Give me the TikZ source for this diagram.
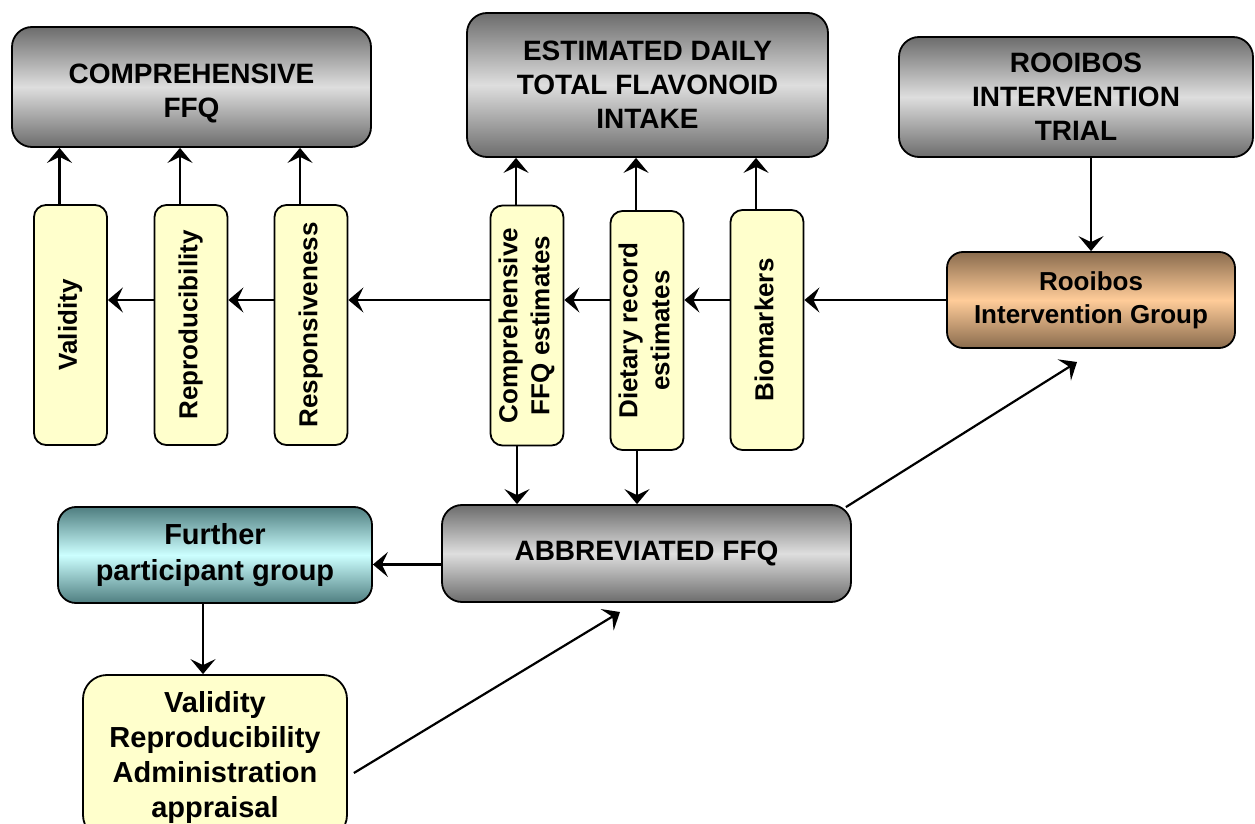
\documentclass[tikz,border=0pt]{standalone}
\usepackage{fontspec}
\setmainfont{Liberation Sans}
\usepackage{graphicx}
\usetikzlibrary{arrows.meta}

\definecolor{greydark}{HTML}{6C6C6C}
\definecolor{greylight}{HTML}{DEDEDE}
\definecolor{tandark}{HTML}{8A6C4E}
\definecolor{tanlight}{HTML}{FFCC99}
\definecolor{tealdark}{HTML}{4F7E80}
\definecolor{teallight}{HTML}{CCFFFF}
\definecolor{paleyellow}{HTML}{FFFFCC}

\newcommand{\vlabel}[1]{\rotatebox{90}{\begin{tabular}{@{}c@{}}#1\end{tabular}}}

\tikzset{
  box/.style={draw, line width=0.9pt, inner sep=0pt, align=center,
    font=\bfseries\fontsize{14}{17}\selectfont},
  greybox/.style={box, rounded corners=10pt, top color=greydark,
    bottom color=greydark, middle color=greylight},
  tanbox/.style={box, rounded corners=8pt, top color=tandark,
    bottom color=tandark, middle color=tanlight,
    font=\bfseries\fontsize{13}{16.5}\selectfont},
  tealbox/.style={box, rounded corners=9pt, top color=tealdark,
    bottom color=tealdark, middle color=teallight,
    font=\bfseries\fontsize{14.5}{18}\selectfont},
  yelbox/.style={box, rounded corners=12pt, fill=paleyellow,
    font=\bfseries\fontsize{14.5}{17.5}\selectfont},
  vbox/.style={box, rounded corners=6pt, fill=paleyellow,
    minimum width=36.5pt, minimum height=120pt,
    font=\bfseries\fontsize{13}{16}\selectfont},
  arr/.style={-{Stealth[length=7.5pt,width=12.5pt,inset=3pt]}, line width=1.1pt}
}

\begin{document}
\begin{tikzpicture}[x=0.5pt,y=-0.5pt]
  \useasboundingbox (0,0) rectangle (1255,824);
  % top row
  \node[greybox, minimum width=179.5pt, minimum height=60pt] (cffq) at (191.5,87) {\raisebox{-7pt}[0pt][0pt]{\begin{tabular}{@{}c@{}}COMPREHENSIVE\\FFQ\end{tabular}}};
  \node[greybox, minimum width=180.5pt, minimum height=72pt] (edti) at (647.5,85) {ESTIMATED DAILY\\TOTAL FLAVONOID\\INTAKE};
  \node[greybox, minimum width=177pt, minimum height=60pt] (trial) at (1076,97) {ROOIBOS\\INTERVENTION\\TRIAL};
  \node[tanbox, minimum width=144pt, minimum height=48pt] (group) at (1091,300) {Rooibos\\Intervention Group};
  % vertical boxes
  \node[vbox] (val) at (70.5,325) {\vlabel{Validity}};
  \node[vbox] (rep) at (191,325) {\vlabel{Reproducibility}};
  \node[vbox] (res) at (311,325) {\vlabel{Responsiveness}};
  \node[vbox] (cest) at (527,325.5) {\vlabel{Comprehensive\\FFQ estimates}};
  \node[vbox, minimum height=119.5pt] (dest) at (647,330.5) {\vlabel{Dietary record\\estimates}};
  \node[vbox] (bio) at (767,330) {\vlabel{Biomarkers}};
  % bottom part
  \node[greybox, minimum width=204.5pt, minimum height=48.5pt] (abbr) at (646.5,553.5) {ABBREVIATED FFQ};
  \node[tealbox, minimum width=157pt, minimum height=48pt] (further) at (215,555) {Further\\participant group};
  \node[yelbox, minimum width=132pt, minimum height=82pt] (appr) at (215,757) {Validity\\Reproducibility\\Administration\\appraisal};
  \coordinate (abbrtip) at (620,612);
  \coordinate (grouptip) at (1077,362);

  % connectors
  \draw[arr] (trial.south -| group.north) -- (group.north);
  \draw[arr] (group.west) -- (group.west -| bio.east);
  \foreach \a/\b in {bio/dest, dest/cest, cest/res, res/rep, rep/val}
    \draw[arr] (\a.west |- group.west) -- (\b.east |- group.west);
  \foreach \n/\t in {val/cffq, rep/cffq, res/cffq, cest/edti, dest/edti, bio/edti}
    \draw[arr] ([xshift=-5.5pt]\n.north) -- ([xshift=-5.5pt]\n.north |- \t.south);
  \foreach \n in {cest, dest}
    \draw[arr] ([xshift=-5pt]\n.south) -- ([xshift=-5pt]\n.south |- abbr.north);
  \draw[arr] ([yshift=-5.5pt]abbr.west) -- ([yshift=-5.5pt]abbr.west -| further.east);
  \draw[arr] ([xshift=-6pt]further.south) -- ([xshift=-6pt]further.south |- appr.north);
  \draw[arr] ([xshift=3pt,yshift=-8pt]appr.east) -- (abbrtip);
  \draw[arr] ([xshift=-3pt,yshift=-1.5pt]abbr.north east) -- (grouptip);
\end{tikzpicture}
\end{document}
